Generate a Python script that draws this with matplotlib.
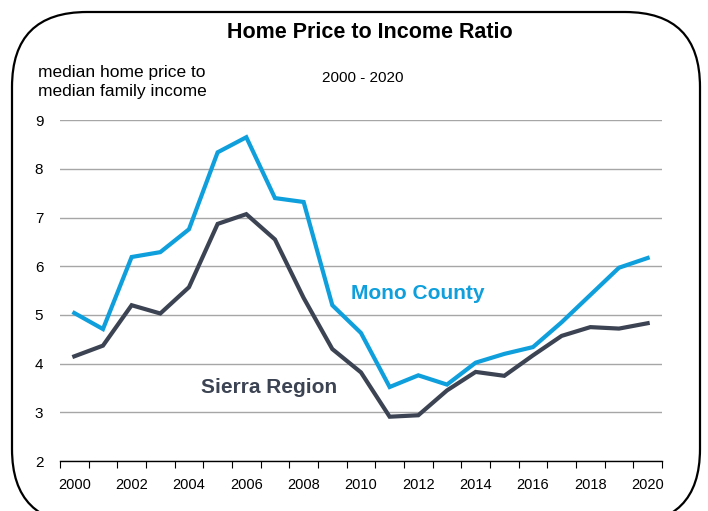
import matplotlib.pyplot as plt
from matplotlib.patches import FancyBboxPatch

# Data
years = list(range(2000, 2021))
mono_county = [5.04, 4.71, 6.19, 6.29, 6.76, 8.34, 8.65, 7.40, 7.32, 5.20, 4.63,
               3.52, 3.76, 3.57, 4.02, 4.20, 4.34, 4.85, 5.41, 5.97, 6.17]
sierra_region = [4.15, 4.37, 5.20, 5.03, 5.57, 6.87, 7.07, 6.55, 5.35, 4.30, 3.82,
                 2.91, 2.94, 3.45, 3.83, 3.75, 4.17, 4.57, 4.75, 4.72, 4.83]
year_labels = [str(y) for y in years[::2]]
y_ticks = [2, 3, 4, 5, 6, 7, 8, 9]

MONO_BLUE = '#0E9FDC'
SIERRA_GRAY = '#3C4352'

plt.rcParams['font.family'] = ['Liberation Sans', 'DejaVu Sans']

fig = plt.figure(figsize=(7.08, 5.11), dpi=100)
ax = fig.add_axes([0.0847, 0.0978, 0.8503, 0.667])

# Plot the two ratio series on a category axis
idx = list(range(len(years)))
ax.plot(idx, mono_county, color=MONO_BLUE, lw=3.0, solid_joinstyle='miter')
ax.plot(idx, sierra_region, color=SIERRA_GRAY, lw=3.0, solid_joinstyle='miter')

ax.set_xlim(-0.5, len(years) - 0.5)
ax.set_ylim(2, 9)
ax.set_yticks(y_ticks)
ax.yaxis.grid(True, color='#A6A6A6', lw=1.0)
ax.set_axisbelow(True)
ax.tick_params(axis='y', length=0, pad=12, labelsize=11)

# Ticks sit on category boundaries, labels every other year
ax.set_xticks([i - 0.5 for i in range(len(years) + 1)])
ax.set_xticklabels([])
ax.set_xticks(idx[::2], minor=True)
ax.set_xticklabels(year_labels, minor=True, fontsize=10.5)
ax.tick_params(axis='x', which='major', length=5, direction='out', color='black')
ax.tick_params(axis='x', which='minor', length=0, pad=12)

for side in ['left', 'right', 'top']:
    ax.spines[side].set_visible(False)
ax.spines['bottom'].set_color('black')
ax.spines['bottom'].set_linewidth(1.0)

# Series labels inside the plot
ax.text(9.64, 5.45, 'Mono County', color=MONO_BLUE, fontsize=15,
        fontweight='bold', ha='left', va='center')
ax.text(4.41, 3.52, 'Sierra Region', color=SIERRA_GRAY, fontsize=15,
        fontweight='bold', ha='left', va='center')

# Titles and axis note
fig.text(0.522, 0.937, 'Home Price to Income Ratio', fontsize=15.5,
         fontweight='bold', ha='center', va='center')
fig.text(0.513, 0.847, '2000 - 2020', fontsize=11, ha='center', va='center')
fig.text(0.054, 0.839, 'median home price to\nmedian family income', fontsize=12.5,
         ha='left', va='center', linespacing=1.35)

# Rounded frame around the chart
frame = FancyBboxPatch((0.12, -0.13), 6.88, 5.12,
                       boxstyle='round,pad=0,rounding_size=0.75',
                       transform=fig.dpi_scale_trans, fill=False,
                       edgecolor='black', lw=1.6, clip_on=False)
fig.add_artist(frame)

fig.savefig('out.png', dpi=100)
